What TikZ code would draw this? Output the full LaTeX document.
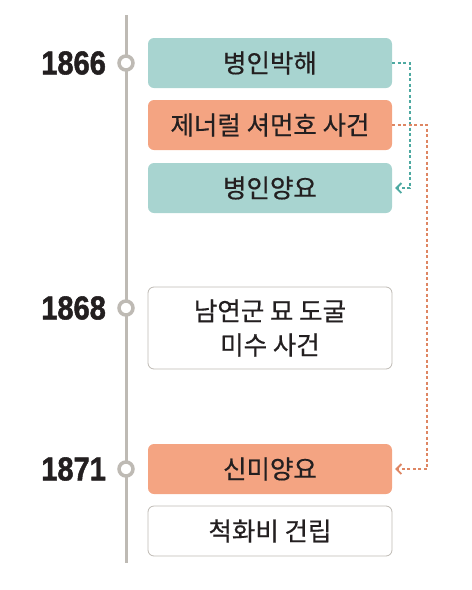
\documentclass[tikz,border=0pt]{standalone}
\usepackage{fontspec}
\setmainfont{Liberation Sans}
\newfontfamily\kr[UprightFeatures={FakeBold=0.5}]{Noto Sans CJK KR}
\newfontfamily\yearfont[BoldFeatures={FakeBold=1.6}]{Liberation Sans}
\usetikzlibrary{arrows.meta}

\definecolor{tealbox}{HTML}{A8D4D0}
\definecolor{orangebox}{HTML}{F4A482}
\definecolor{tealline}{HTML}{4DA9A1}
\definecolor{orangeline}{HTML}{DE8663}
\definecolor{axisgray}{HTML}{BEBAB4}
\definecolor{inkdark}{HTML}{231F20}

\tikzset{
  eventbox/.style={rounded corners=6pt, minimum width=244pt, minimum height=50pt,
    font=\kr\fontsize{25.5}{34}\selectfont, text=inkdark, align=center, inner sep=0pt},
  tealevent/.style={eventbox, fill=tealbox},
  orangeevent/.style={eventbox, fill=orangebox},
  plainevent/.style={eventbox, draw=axisgray, line width=0.8pt, fill=white},
  yearlabel/.style={anchor=east, font=\yearfont\bfseries\fontsize{33}{33}\selectfont, text=inkdark, xscale=0.88},
  yeardot/.style={circle, draw=axisgray, line width=3.5pt, fill=white, minimum size=14pt, inner sep=0pt},
  linkline/.style={line width=1.8pt, dash pattern=on 3pt off 2.5pt, -{Straight Barb[length=5pt,width=10pt]}, shorten >=3pt}
}

\begin{document}
\begin{tikzpicture}[x=1pt,y=-1pt]
    \useasboundingbox (0,0) rectangle (472,590);

    %time axis
    \draw[axisgray, line width=3pt] (126,15) -- (126,563);

    %events
    \node[tealevent] (byeonginbakhae) at (270,63) {병인박해};
    \node[orangeevent] (sherman) at (270,125) {제너럴 셔먼호 사건};
    \node[tealevent] (byeonginyangyo) at (270,188) {병인양요};
    \node[plainevent, minimum height=82pt] (namyeongun) at (270,328) {남연군 묘 도굴\\미수 사건};
    \node[orangeevent] (sinmiyangyo) at (270,469) {신미양요};
    \node[plainevent] (cheokhwabi) at (270,531) {척화비 건립};

    %years
    \foreach \yr/\y in {1866/63, 1868/308, 1871/469}
    {
        \node[yeardot] (dot\yr) at (126,\y) {};
        \node[yearlabel] (year\yr) at (109,\y) {\yr};
    }

    %links
    \draw[linkline, tealline] (byeonginbakhae.east) -- ++(18,0) |- (byeonginyangyo.east);
    \draw[linkline, orangeline] (sherman.east) -- ++(35,0) |- (sinmiyangyo.east);

\end{tikzpicture}
\end{document}
